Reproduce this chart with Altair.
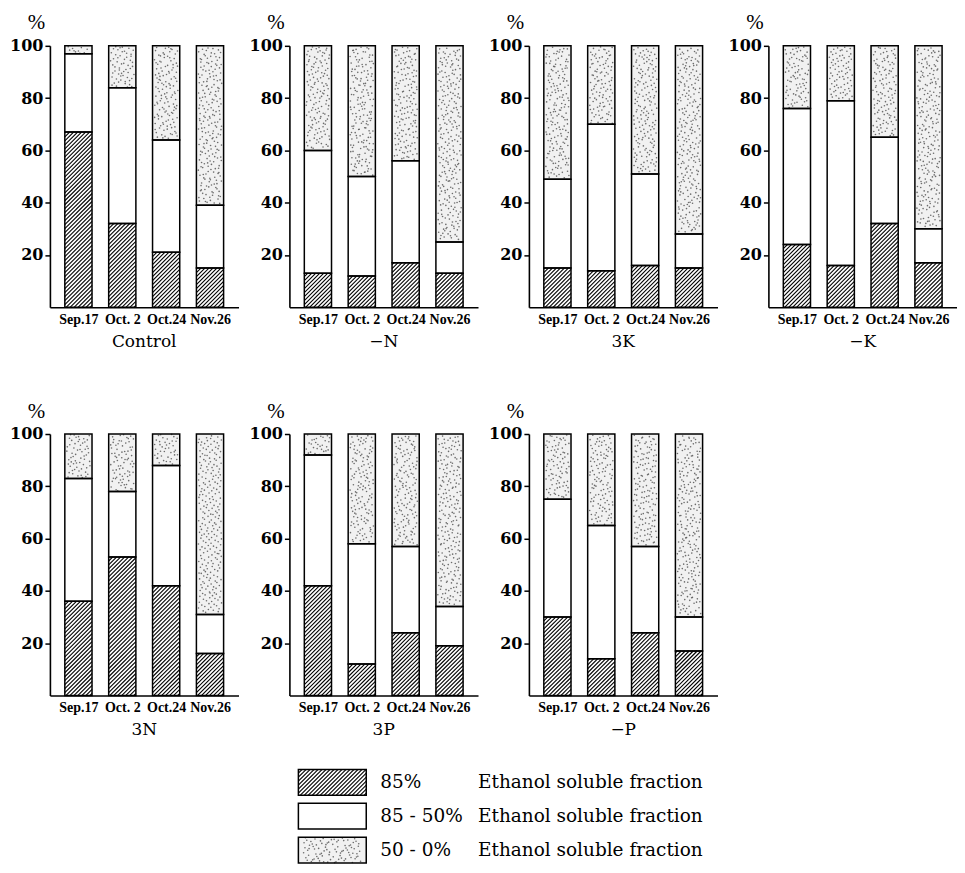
import altair as alt
import pandas as pd

# ---------------- data (percent of total sugar per fraction) ----------------
panels = ["Control", "−N", "3K", "−K", "3N", "3P", "−P"]
dates = ["Sep.17", "Oct. 2", "Oct.24", "Nov.26"]
classes = ["85%", "85 - 50%", "50 - 0%"]
legend_text = "Ethanol soluble fraction"

frac_85 = {
    "Control": [67, 32, 21, 15],
    "−N": [13, 12, 17, 13],
    "3K": [15, 14, 16, 15],
    "−K": [24, 16, 32, 17],
    "3N": [36, 53, 42, 16],
    "3P": [42, 12, 24, 19],
    "−P": [30, 14, 24, 17],
}
frac_85_50 = {
    "Control": [30, 52, 43, 24],
    "−N": [47, 38, 39, 12],
    "3K": [34, 56, 35, 13],
    "−K": [52, 63, 33, 13],
    "3N": [47, 25, 46, 15],
    "3P": [50, 46, 33, 15],
    "−P": [45, 51, 33, 13],
}
frac_50_0 = {
    "Control": [3, 16, 36, 61],
    "−N": [40, 50, 44, 75],
    "3K": [51, 30, 49, 72],
    "−K": [24, 21, 35, 70],
    "3N": [17, 22, 12, 69],
    "3P": [8, 42, 43, 66],
    "−P": [25, 35, 43, 70],
}

# ---------------- layout / style ----------------
FONT = "Liberation Serif"
FONT2 = "DejaVu Serif"
W, H = 189, 262
XMIN, XMAX = -0.65, 3.65
HALF = 0.31
PXX = W / (XMAX - XMIN)
PXY = H / 100.0
STEP = 4.0
DOT_AREA = 20.0
FILLS = ["white", "white", "#f1f1f1"]


def hatch(x0, x1, y0, y1, pxx, pxy, step):
    """diagonal '////' hatch segments clipped to a rectangle (data units)"""
    w = (x1 - x0) * pxx
    h = (y1 - y0) * pxy
    out = []
    c = -w + step * 0.5
    while c < h:
        u0 = max(0.0, -c)
        u1 = min(w, h - c)
        if u1 - u0 > 0.3:
            out.append(dict(hx=x0 + u0 / pxx, hy=y0 + (u0 + c) / pxy,
                            hx2=x0 + u1 / pxx, hy2=y0 + (u1 + c) / pxy))
        c += step
    return out


def halton(i, b):
    f, r = 1.0, 0.0
    while i > 0:
        f /= b
        r += f * (i % b)
        i //= b
    return r


def stipple(x0, x1, y0, y1, pxx, pxy, seed):
    """stipple texture points (low-discrepancy sequence) inside a rectangle"""
    n = int(((x1 - x0) * pxx) * ((y1 - y0) * pxy) / DOT_AREA)
    return [dict(dx=x0 + (0.07 + 0.86 * halton(seed + j, 2)) * (x1 - x0),
                 dy=y0 + (0.01 + 0.98 * halton(seed + j, 3)) * (y1 - y0)) for j in range(n)]


label_expr = "[" + ",".join("'%s'" % d for d in dates) + "][round(datum.value)]"

xaxis = alt.Axis(values=[0, 1, 2, 3], labelExpr=label_expr, ticks=False, grid=False,
                 domainColor="black", domainWidth=1.6, labelFont=FONT, labelFontSize=14,
                 labelFontWeight="bold", labelColor="black", labelPadding=5, title=None)
yaxis = alt.Axis(values=[20, 40, 60, 80, 100], grid=False, tickSize=5, tickColor="black",
                 tickWidth=1.5, domainColor="black", domainWidth=1.6, labelFont=FONT2,
                 labelFontSize=16, labelFontWeight="bold", labelColor="black", labelPadding=2,
                 title="%", titleAngle=0, titleX=-14, titleY=-13, titleAlign="center",
                 titleBaseline="bottom", titleFont=FONT, titleFontSize=21,
                 titleFontWeight="normal", titleColor="black")
xscale = alt.Scale(domain=[XMIN, XMAX], nice=False, zero=False)
yscale = alt.Scale(domain=[0, 100], nice=False)


def panel(name, pidx):
    segs, hat, dts = [], [], []
    for i, d in enumerate(dates):
        vals = [frac_85[name][i], frac_85_50[name][i], frac_50_0[name][i]]
        lo = 0
        for cls, v in zip(classes, vals):
            segs.append(dict(date=d, cls=cls, x=i - HALF, x2=i + HALF, y=lo, y2=lo + v))
            lo += v
        hat += hatch(i - HALF, i + HALF, 0, vals[0], PXX, PXY, STEP)
        dts += stipple(i - HALF, i + HALF, vals[0] + vals[1], 100, PXX, PXY,
                       1 + 997 * (pidx * 4 + i))
    sdf = pd.DataFrame(segs)
    hdf = pd.DataFrame(hat)
    ddf = pd.DataFrame(dts)
    base = alt.Chart(sdf)
    fill = base.mark_rect().encode(
        x=alt.X("x:Q", scale=xscale, axis=xaxis), x2="x2:Q",
        y=alt.Y("y:Q", scale=yscale, axis=yaxis), y2="y2:Q",
        fill=alt.Fill("cls:N", scale=alt.Scale(domain=classes, range=FILLS), legend=None),
    )
    dots = alt.Chart(ddf).mark_circle(size=2.6, color="#555555", opacity=0.85).encode(
        x=alt.X("dx:Q", scale=xscale, axis=xaxis),
        y=alt.Y("dy:Q", scale=yscale, axis=yaxis),
    )
    lines = alt.Chart(hdf).mark_rule(color="black", strokeWidth=1.1).encode(
        x=alt.X("hx:Q", scale=xscale, axis=xaxis), x2="hx2:Q",
        y=alt.Y("hy:Q", scale=yscale, axis=yaxis), y2="hy2:Q",
    )
    outline = base.mark_rect(fillOpacity=0, stroke="black", strokeWidth=1.5).encode(
        x=alt.X("x:Q", scale=xscale, axis=xaxis), x2="x2:Q",
        y=alt.Y("y:Q", scale=yscale, axis=yaxis), y2="y2:Q",
    )
    return alt.layer(fill, dots, lines, outline).properties(
        width=W, height=H,
        title=alt.TitleParams(name, orient="bottom", font=FONT2, fontSize=17,
                              fontWeight="normal", color="black", offset=8, anchor="middle"),
    )


row1 = alt.hconcat(*[panel(p, k) for k, p in enumerate(panels[:4])], spacing=10)
row2 = alt.hconcat(*[panel(p, k + 4) for k, p in enumerate(panels[4:])], spacing=10)

# ---------------- custom legend ----------------
LEG_W = 680
ROW_PX = 34.0
LEG_YMIN, LEG_YMAX = 0.1, 3.0
LEG_H = ROW_PX * (LEG_YMAX - LEG_YMIN)
LEG_X0 = 249
SW_W = 68
SW_LO, SW_HI = 0.12, 0.88
lrows, lhat, ldots = [], [], []
for k, cls in zip([2, 1, 0], classes):
    lrows.append(dict(cls=cls, x=LEG_X0, x2=LEG_X0 + SW_W, y=k + SW_LO, y2=k + SW_HI,
                      ym=k + 0.5, t1x=LEG_X0 + 82, t2x=LEG_X0 + 180, txt=legend_text))
lhat += hatch(LEG_X0, LEG_X0 + SW_W, 2 + SW_LO, 2 + SW_HI, 1.0, ROW_PX, STEP)
ldots += stipple(LEG_X0, LEG_X0 + SW_W, SW_LO, SW_HI, 1.0, ROW_PX, 7)
ldf = pd.DataFrame(lrows)
lhdf = pd.DataFrame(lhat)
lddf = pd.DataFrame(ldots)
lx = alt.Scale(domain=[0, LEG_W], nice=False, zero=False)
ly = alt.Scale(domain=[LEG_YMIN, LEG_YMAX], nice=False, zero=False)
lbase = alt.Chart(ldf)
lfill = lbase.mark_rect().encode(
    x=alt.X("x:Q", scale=lx, axis=None), x2="x2:Q",
    y=alt.Y("y:Q", scale=ly, axis=None), y2="y2:Q",
    fill=alt.Fill("cls:N", scale=alt.Scale(domain=classes, range=FILLS), legend=None),
)
ldot = alt.Chart(lddf).mark_circle(size=2.6, color="#555555", opacity=0.85).encode(
    x=alt.X("dx:Q", scale=lx, axis=None), y=alt.Y("dy:Q", scale=ly, axis=None))
llines = alt.Chart(lhdf).mark_rule(color="black", strokeWidth=1.1).encode(
    x=alt.X("hx:Q", scale=lx, axis=None), x2="hx2:Q",
    y=alt.Y("hy:Q", scale=ly, axis=None), y2="hy2:Q",
)
lout = lbase.mark_rect(fillOpacity=0, stroke="black", strokeWidth=1.5).encode(
    x=alt.X("x:Q", scale=lx, axis=None), x2="x2:Q",
    y=alt.Y("y:Q", scale=ly, axis=None), y2="y2:Q",
)
lt1 = lbase.mark_text(align="left", baseline="middle", font=FONT2, fontSize=18.5,
                      color="black").encode(
    x=alt.X("t1x:Q", scale=lx, axis=None), y=alt.Y("ym:Q", scale=ly, axis=None), text="cls:N")
lt2 = lbase.mark_text(align="left", baseline="middle", font=FONT2, fontSize=18.5,
                      color="black").encode(
    x=alt.X("t2x:Q", scale=lx, axis=None), y=alt.Y("ym:Q", scale=ly, axis=None), text="txt:N")
legend = alt.layer(lfill, ldot, llines, lout, lt1, lt2).properties(width=LEG_W, height=LEG_H)

chart = alt.vconcat(
    alt.vconcat(row1, row2, spacing=50),
    legend,
    spacing=27,
).configure(
    background="white",
    padding={"left": 1, "top": 3, "right": 0, "bottom": 0},
    view=alt.ViewConfig(stroke=None),
)

chart.save("out.html", embed_options={"renderer": "svg", "actions": False})
